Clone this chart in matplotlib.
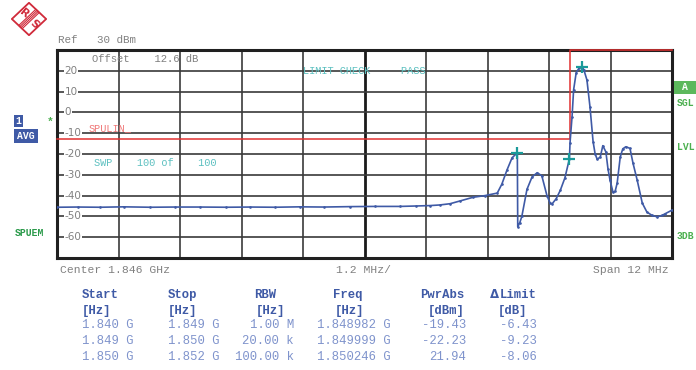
import numpy as np
import matplotlib
matplotlib.use("Agg")
import matplotlib.pyplot as plt
from matplotlib.patches import Rectangle, Polygon

# trace (frequency in MHz, level in dBm)
freq_mhz = [1840.00, 1840.40, 1840.84, 1841.30, 1841.82, 1842.30, 1842.79, 1843.30,
            1843.77, 1844.25, 1844.74, 1845.20, 1845.72, 1846.20, 1846.69, 1847.00,
            1847.28, 1847.47, 1847.67, 1847.86, 1848.12, 1848.35, 1848.59, 1848.68,
            1848.78, 1848.88, 1848.982, 1848.99, 1849.03, 1849.07, 1849.17, 1849.27,
            1849.37, 1849.46, 1849.56, 1849.62, 1849.66, 1849.74, 1849.82, 1849.91,
            1849.999, 1850.01, 1850.05, 1850.08, 1850.13, 1850.19, 1850.246, 1850.28,
            1850.34, 1850.40, 1850.46, 1850.50, 1850.54, 1850.60, 1850.65, 1850.71,
            1850.75, 1850.79, 1850.85, 1850.89, 1850.93, 1850.99, 1851.04, 1851.10,
            1851.18, 1851.24, 1851.32, 1851.42, 1851.51, 1851.61, 1851.71, 1851.81,
            1851.86, 1852.00]
level_dbm = [-45.6, -45.5, -45.6, -45.4, -45.6, -45.5, -45.5, -45.6,
             -45.5, -45.6, -45.4, -45.5, -45.3, -45.2, -45.2, -45.0,
             -44.8, -44.5, -43.9, -42.6, -40.8, -40.0, -38.8, -34.5,
             -27.7, -21.8, -19.43, -55.0, -53.0, -50.0, -37.0, -31.0,
             -29.0, -30.5, -40.0, -43.5, -44.0, -41.5, -37.5, -31.5,
             -22.23, -14.7, -2.0, 10.8, 19.0, 21.5, 21.94, 20.5,
             15.6, 2.6, -14.0, -20.0, -22.5, -21.5, -16.0, -19.0,
             -27.0, -32.5, -38.5, -38.0, -34.0, -21.4, -17.5, -16.5,
             -17.3, -24.5, -32.5, -43.6, -47.9, -49.5, -50.2, -49.5,
             -48.8, -47.0]

# limit line SPULIN
limit_f = [1840.0, 1850.0, 1850.0, 1852.0]
limit_db = [-13.0, -13.0, 30.0, 30.0]

# markers
mark_f = [1848.982, 1849.999, 1850.246]
mark_db = [-19.43, -22.23, 21.94]

# result table
tab_start = ["1.840 G", "1.849 G", "1.850 G"]
tab_stop = ["1.849 G", "1.850 G", "1.852 G"]
tab_rbw = ["1.00 M", "20.00 k", "100.00 k"]
tab_freq = ["1.848982 G", "1.849999 G", "1.850246 G"]
tab_pwr = ["-19.43", "-22.23", "21.94"]
tab_lim = ["-6.43", "-9.23", "-8.06"]

W, H = 696, 370
BLUE = "#3f5aa6"
LBLUE = "#7f93cc"
GRAY = "#808080"
CYAN = "#5cc0c0"
GREEN = "#4cb050"
RED = "#e03030"
MONO = "Liberation Mono"


def px(x, y):
    return x / W, 1 - y / H


fig = plt.figure(figsize=(W / 100, H / 100), dpi=100)

# plot area 57..672 x 50..258 px
ax = fig.add_axes([57 / W, 1 - 258 / H, 615 / W, 208 / H])
ax.set_xlim(1840, 1852)
ax.set_ylim(-70, 30)
ax.set_xticks([])
ax.set_yticks([])
for s in ax.spines.values():
    s.set_linewidth(2.2)
    s.set_color("#202020")

for i in range(1, 10):
    f = 1840 + 1.2 * i
    ax.axvline(f, color="#1a1a1a" if i == 5 else "#4a4a4a",
               lw=2.0 if i == 5 else 1.3, zorder=1)
for lv in range(-60, 30, 10):
    ax.axhline(lv, color="#3a3a3a", lw=1.2, zorder=1)

# y tick labels drawn inside the grid
for lv in range(-60, 30, 10):
    ax.text(1840.15, lv, str(lv), fontsize=7.5, color=GRAY, va="center", ha="left",
            family="DejaVu Sans", zorder=3,
            bbox=dict(facecolor="white", edgecolor="none", pad=0.4))

ax.plot(limit_f, limit_db, color=RED, lw=1.1, zorder=4, clip_on=False)
ax.plot(freq_mhz, level_dbm, color=BLUE, lw=1.2, zorder=5,
        marker=".", markersize=1.8, markerfacecolor=BLUE, markeredgecolor=BLUE)
ax.plot(mark_f, mark_db, "+", color="#1a9a9a", markersize=9, markeredgewidth=1.6, zorder=6)

# texts on the screen
fig.text(*px(58, 40), "Ref   30 dBm", family=MONO, fontsize=7.8, color=GRAY, va="center")
fig.text(*px(92, 59), "Offset    12.6 dB", family=MONO, fontsize=7.6, color=GRAY, va="center")
fig.text(*px(303, 71), "LIMIT CHECK     PASS", family=MONO, fontsize=7.4, color=CYAN, va="center")
fig.text(*px(94, 163), "SWP    100 of    100", family=MONO, fontsize=7.4, color=CYAN, va="center")
fig.text(*px(89, 128), "SPULIN_", family=MONO, fontsize=7.4, color="#f07878", va="center")
fig.text(*px(60, 270), "Center 1.846 GHz", family=MONO, fontsize=8.2, color=GRAY, va="center")
fig.text(*px(364, 270), "1.2 MHz/", family=MONO, fontsize=8.2, color=GRAY, va="center", ha="center")
fig.text(*px(669, 270), "Span 12 MHz", family=MONO, fontsize=8.2, color=GRAY, va="center", ha="right")

# side annotations
fig.patches.append(Rectangle(px(674, 94), 22 / W, 13 / H, transform=fig.transFigure,
                             facecolor="#5cb85c", edgecolor="none"))
fig.text(*px(685, 87.5), "A", family=MONO, fontsize=7, color="white", weight="bold",
         va="center", ha="center")
for yy, t in [(103, "SGL"), (147, "LVL"), (236, "3DB")]:
    fig.text(*px(677, yy), t, family=MONO, fontsize=7, color=GREEN, weight="bold", va="center")

fig.patches.append(Rectangle(px(14, 127), 9 / W, 12 / H, transform=fig.transFigure,
                             facecolor=BLUE, edgecolor="none"))
fig.text(*px(18.5, 121), "1", family=MONO, fontsize=7, color="white", weight="bold",
         va="center", ha="center")
fig.patches.append(Rectangle(px(14, 143), 24 / W, 14 / H, transform=fig.transFigure,
                             facecolor=BLUE, edgecolor="none"))
fig.text(*px(26, 136), "AVG", family=MONO, fontsize=7, color="white", weight="bold",
         va="center", ha="center")
fig.text(*px(50, 122), "*", family=MONO, fontsize=8, color=GREEN, weight="bold",
         va="center", ha="center")
fig.text(*px(15, 233), "SPUEM", family=MONO, fontsize=7, color="#2a9a4a", weight="bold", va="center")

# R&S logo
lg = fig.add_axes([11 / W, 1 - 36 / H, 36 / W, 34 / H])
lg.set_xlim(-1.05, 1.05)
lg.set_ylim(-1.05, 1.05)
lg.axis("off")
lg.add_patch(Polygon([[0, 1], [1, 0], [0, -1], [-1, 0]], closed=True,
                     facecolor="white", edgecolor="#d02a3a", lw=1.3))
for d in np.linspace(-0.1, 0.1, 4):
    lg.plot([-0.5 + d, 0.5 + d], [-0.5 - d, 0.5 - d], color="#d02a3a", lw=0.8)
lg.text(-0.3, 0.32, "R", color="#d02a3a", fontsize=8, weight="bold",
        ha="center", va="center", rotation=-40)
lg.text(0.3, -0.32, "S", color="#d02a3a", fontsize=8, weight="bold",
        ha="center", va="center", rotation=-40)

# table
hdr = dict(family=MONO, fontsize=8.8, color=BLUE, weight="bold", va="center")
val = dict(family=MONO, fontsize=8.8, color=LBLUE, va="center")
fig.text(*px(82, 295), "Start", **hdr)
fig.text(*px(168, 295), "Stop", **hdr)
fig.text(*px(254, 295), "RBW", **hdr)
fig.text(*px(333, 295), "Freq", **hdr)
fig.text(*px(420, 295), "PwrAbs", **hdr)
fig.text(*px(500, 295), "Limit", **hdr)
fig.text(*px(494, 295), "\u0394", family="DejaVu Sans", fontsize=8.5, color=BLUE,
         weight="bold", va="center", ha="center")
fig.text(*px(82, 311), "[Hz]", **hdr)
fig.text(*px(168, 311), "[Hz]", **hdr)
fig.text(*px(256, 311), "[Hz]", **hdr)
fig.text(*px(335, 311), "[Hz]", **hdr)
fig.text(*px(428, 311), "[dBm]", **hdr)
fig.text(*px(498, 311), "[dB]", **hdr)
for i, yy in enumerate([325, 341, 357]):
    fig.text(*px(82, yy), tab_start[i], **val)
    fig.text(*px(168, yy), tab_stop[i], **val)
    fig.text(*px(294, yy), tab_rbw[i], ha="right", **val)
    fig.text(*px(317, yy), tab_freq[i], **val)
    fig.text(*px(466, yy), tab_pwr[i], ha="right", **val)
    fig.text(*px(537, yy), tab_lim[i], ha="right", **val)

fig.savefig("out.png", dpi=100, facecolor="white")
